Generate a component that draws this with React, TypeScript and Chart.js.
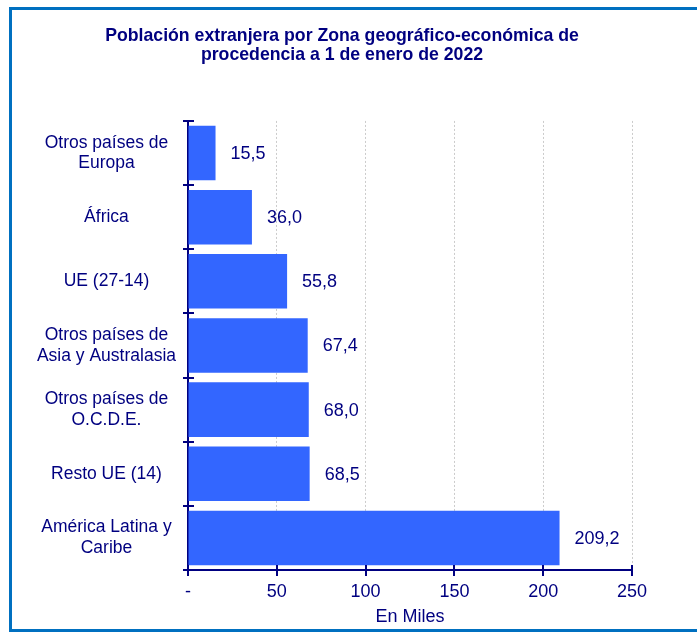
import React, { useEffect, useRef } from "react";
import { Chart, registerables } from "chart.js";

Chart.register(...registerables);

const TITLE_LINES = [
  "Población extranjera por Zona geográfico-económica de",
  "procedencia a 1 de enero de 2022",
];
const CATEGORIES: string[][] = [
  ["Otros países de", "Europa"],
  ["África"],
  ["UE (27-14)"],
  ["Otros países de", "Asia y Australasia"],
  ["Otros países de", "O.C.D.E."],
  ["Resto UE (14)"],
  ["América Latina y", "Caribe"],
];
const VALUES = [15.5, 36.0, 55.8, 67.4, 68.0, 68.5, 209.2];
const X_MIN = 0;
const X_MAX = 250;
const X_STEP = 50;
const X_TITLE = "En Miles";

const NAVY = "#000080";
const BAR = "#3366FF";
const FONT = "'Liberation Sans', Arial, sans-serif";
const FS = 18;

const fmt = (v: number) => v.toFixed(1).replace(".", ",");

const valueLabels = {
  id: "valueLabels",
  afterDatasetsDraw(chart: any) {
    const ctx = chart.ctx;
    const meta = chart.getDatasetMeta(0);
    ctx.save();
    ctx.font = `${FS}px ${FONT}`;
    ctx.fillStyle = NAVY;
    ctx.textAlign = "left";
    ctx.textBaseline = "middle";
    meta.data.forEach((el: any, i: number) => {
      ctx.fillText(fmt(VALUES[i]), el.x + 15, el.y + 1);
    });
    ctx.restore();
  },
};

const crossTicks = {
  id: "crossTicks",
  afterDraw(chart: any) {
    const ctx = chart.ctx;
    const xs = chart.scales.x;
    const ys = chart.scales.y;
    ctx.save();
    ctx.strokeStyle = NAVY;
    ctx.lineWidth = 2;
    ctx.beginPath();
    const axisY = ys.bottom;
    xs.ticks.forEach((t: any) => {
      const px = Math.round(xs.getPixelForValue(t.value));
      ctx.moveTo(px, axisY - 5);
      ctx.lineTo(px, axisY + 6);
    });
    const axisX = xs.left;
    const n = CATEGORIES.length;
    const step = n > 1 ? ys.getPixelForValue(1) - ys.getPixelForValue(0) : ys.height;
    for (let i = 0; i <= n; i++) {
      const py = Math.round(ys.getPixelForValue(i) - step / 2);
      ctx.moveTo(axisX - 5, py);
      ctx.lineTo(axisX + 6, py);
    }
    ctx.stroke();
    ctx.restore();
  },
};

export default function App() {
  const ref = useRef<HTMLCanvasElement | null>(null);

  useEffect(() => {
    if (!ref.current) return;
    const chart = new Chart(ref.current, {
      type: "bar",
      data: {
        labels: CATEGORIES,
        datasets: [
          {
            data: VALUES,
            xAxisID: "x",
            yAxisID: "y",
            backgroundColor: BAR,
            borderWidth: 0,
            barPercentage: 0.85,
            categoryPercentage: 1,
          },
        ],
      },
      options: {
        indexAxis: "y",
        responsive: false,
        animation: false,
        layout: { padding: { left: 30, right: 43, top: 10, bottom: 5 } },
        plugins: {
          legend: { display: false },
          tooltip: { enabled: false },
          title: {
            display: true,
            text: TITLE_LINES,
            color: NAVY,
            font: { family: FONT, size: 17.7, weight: "bold", lineHeight: 1.1 },
            padding: { top: 16, bottom: 56 },
          },
        },
        scales: {
          x: {
            type: "linear",
            position: "bottom",
            min: X_MIN,
            max: X_MAX,
            afterFit(scale: any) {
              scale.height = 58;
            },
            ticks: {
              stepSize: X_STEP,
              color: NAVY,
              padding: 11,
              font: { family: FONT, size: FS },
              callback: (v: any) => (Number(v) === 0 ? "-" : String(v)),
            },
            grid: {
              color: "#cccccc",
              lineWidth: 1,
              drawTicks: false,
            },
            border: { display: true, color: NAVY, width: 2, dash: [2, 2] },
            title: {
              display: true,
              text: X_TITLE,
              color: NAVY,
              font: { family: FONT, size: FS },
              padding: { top: 0, bottom: 0 },
            },
          },
          y: {
            type: "category",
            position: "left",
            afterFit(scale: any) {
              scale.width = 158;
            },
            ticks: {
              color: NAVY,
              padding: 12,
              crossAlign: "center",
              font: { family: FONT, size: 17.5, lineHeight: 1.18 },
            },
            grid: { display: false, drawTicks: false },
            border: { display: true, color: NAVY, width: 2 },
          },
          ySpacer: {
            type: "category",
            axis: "y",
            position: "right",
            afterFit(scale: any) {
              scale.width = 22;
            },
            ticks: { display: false },
            grid: { display: false, drawTicks: false },
            border: { display: false },
          },
        },
      },
      plugins: [valueLabels, crossTicks],
    } as any);
    return () => chart.destroy();
  }, []);

  return (
    <div>
      <div
        style={{
          position: "fixed",
          left: 9,
          top: 7,
          width: 700,
          height: 619,
          borderLeft: "3px solid #0070C0",
          borderTop: "3px solid #0070C0",
          borderBottom: "3px solid #0070C0",
          boxSizing: "content-box",
        }}
      />
      <canvas
        ref={ref}
        width={697}
        height={633}
        style={{ position: "fixed", left: 0, top: 0, width: 697, height: 633 }}
      />
    </div>
  );
}
